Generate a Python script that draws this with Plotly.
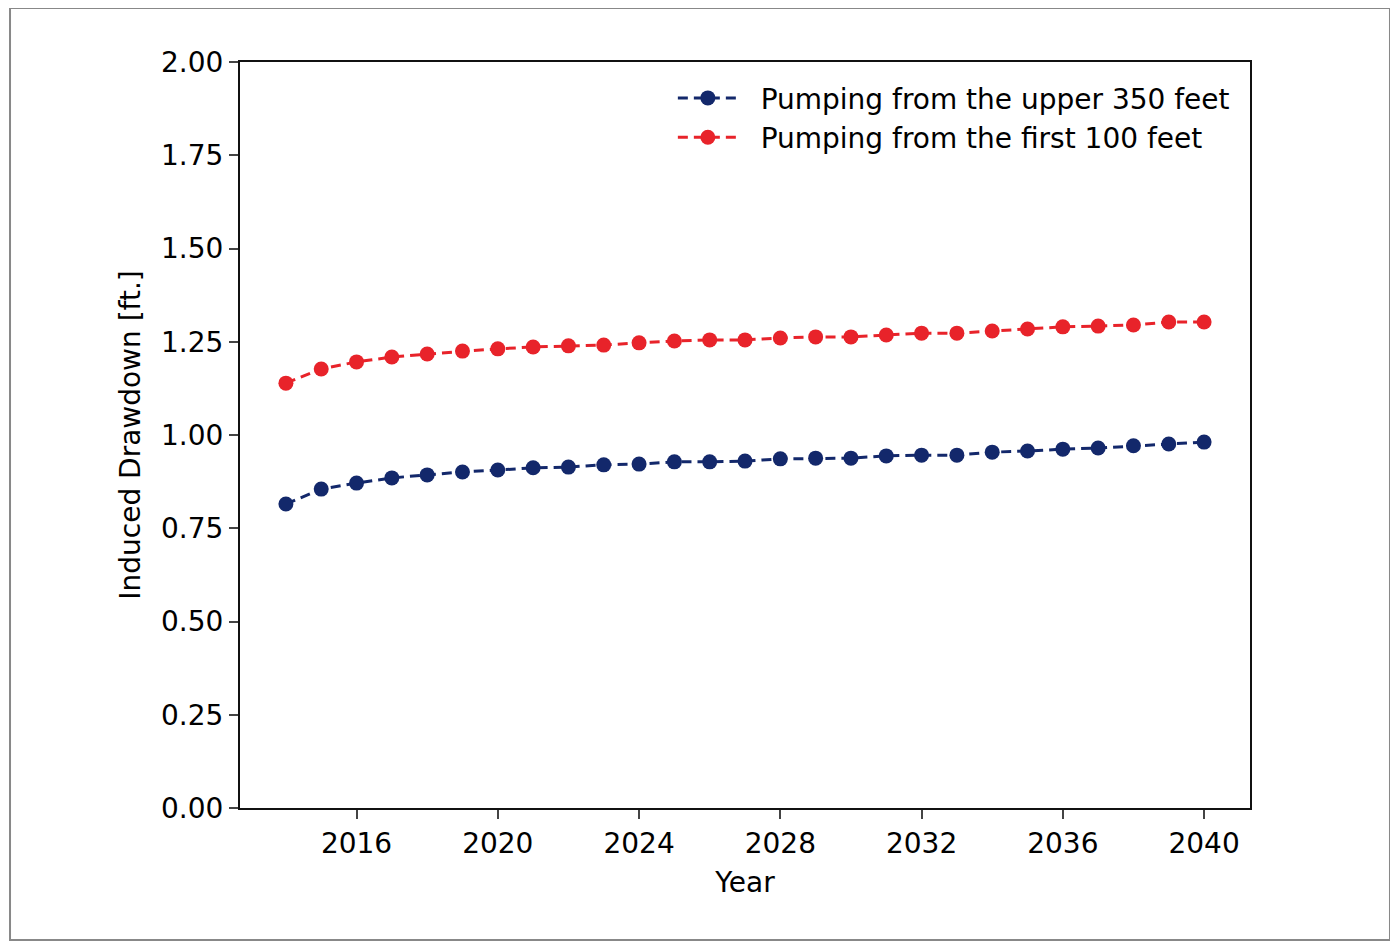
import plotly.graph_objects as go

years = list(range(2014, 2041))
upper_350 = [0.815, 0.855, 0.871, 0.885, 0.893, 0.901, 0.906, 0.912, 0.914, 0.920,
             0.922, 0.928, 0.928, 0.930, 0.936, 0.938, 0.938, 0.944, 0.946, 0.946,
             0.954, 0.957, 0.962, 0.965, 0.971, 0.976, 0.981]
first_100 = [1.139, 1.177, 1.196, 1.209, 1.217, 1.225, 1.231, 1.236, 1.239, 1.241,
             1.247, 1.252, 1.255, 1.255, 1.260, 1.263, 1.263, 1.268, 1.273, 1.273,
             1.279, 1.284, 1.290, 1.292, 1.295, 1.303, 1.303]
x_ticks = [2016, 2020, 2024, 2028, 2032, 2036, 2040]
y_ticks = [0.0, 0.25, 0.5, 0.75, 1.0, 1.25, 1.5, 1.75, 2.0]
names = ["Pumping from the upper 350 feet", "Pumping from the first 100 feet"]

font = "DejaVu Sans"
pad = "\u00a0\u00a0"
fig = go.Figure()
fig.add_trace(go.Scatter(x=years, y=upper_350, mode="lines+markers",
                         name=pad + names[0],
                         line=dict(color="#13286b", width=3, dash="10px,6px"),
                         marker=dict(color="#13286b", size=15)))
fig.add_trace(go.Scatter(x=years, y=first_100, mode="lines+markers",
                         name=pad + names[1],
                         line=dict(color="#e8232a", width=3, dash="10px,6px"),
                         marker=dict(color="#e8232a", size=15)))

fig.update_layout(
    width=1398, height=947,
    margin=dict(l=232, r=156, t=54, b=147),
    paper_bgcolor="white", plot_bgcolor="white",
    font=dict(family=font, size=28, color="#000000"),
    showlegend=True,
    legend=dict(x=0.985, y=0.985, xanchor="right", yanchor="top",
                bgcolor="rgba(255,255,255,0)", font=dict(size=28),
                itemwidth=60, tracegroupgap=0),
    xaxis=dict(range=[2012.7, 2041.3], tickvals=x_ticks,
               ticktext=[str(t) for t in x_ticks],
               showgrid=False, zeroline=False, showline=True, linecolor="#111",
               linewidth=2, mirror=True, ticks="outside", ticklen=9, tickwidth=2,
               tickfont=dict(size=28), title=dict(text="Year", font=dict(size=28), standoff=14)),
    yaxis=dict(range=[0, 2.0], tickvals=y_ticks,
               ticktext=[f"{t:.2f}" for t in y_ticks],
               showgrid=False, zeroline=False, showline=True, linecolor="#111",
               linewidth=2, mirror=True, ticks="outside", ticklen=9, tickwidth=2,
               tickfont=dict(size=28),
               title=dict(text="Induced Drawdown [ft.]", font=dict(size=28), standoff=12)),
)

fig.add_shape(type="rect", xref="paper", yref="paper",
              x0=-0.2277, x1=1.1386, y0=-0.177, y1=1.0724,
              line=dict(color="#888888", width=2), layer="below")

fig.write_html("out.html")
